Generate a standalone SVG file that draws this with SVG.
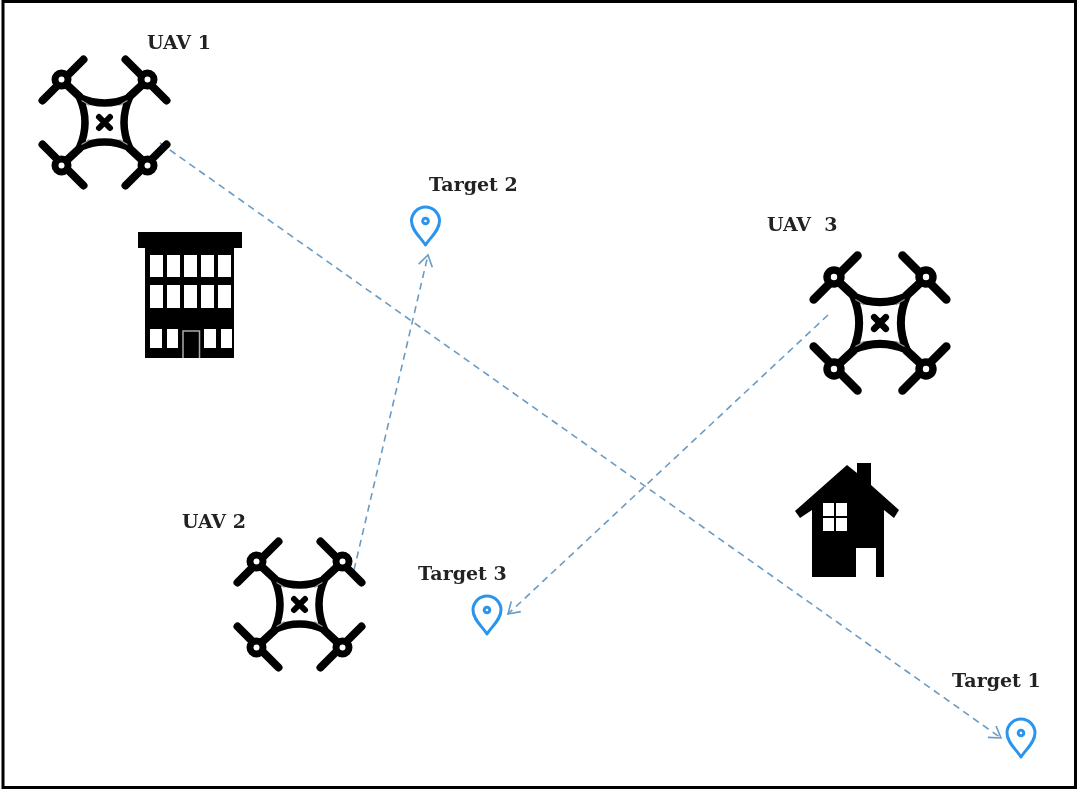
<svg xmlns="http://www.w3.org/2000/svg" width="1080" height="793" viewBox="0 0 1080 793">
<style>
.lbl{font-family:"DejaVu Serif","Liberation Serif",serif;font-weight:bold;font-size:19px;fill:#222;filter:url(#soft)}
.conn{fill:none;stroke:#6a9bc4;stroke-width:1.6;stroke-dasharray:7 5;marker-end:url(#arr)}
.pin{fill:none;stroke:#2b95ee;stroke-width:3;stroke-linejoin:round}
.blade{fill:none;stroke:#000;stroke-width:8;stroke-linecap:round}
.k{fill:#000}.w{fill:#fff}
.soft{filter:url(#soft)}
</style>
<defs>
<filter id="soft" x="-5%" y="-5%" width="110%" height="110%"><feGaussianBlur stdDeviation="0.5"/></filter>
<marker id="arr" markerUnits="userSpaceOnUse" markerWidth="20" markerHeight="20" refX="14" refY="8" orient="auto">
<path d="M3 1L14 8L3 15" fill="none" stroke="#6a9bc4" stroke-width="1.6"/>
</marker>
<g id="rotor">
<path class="blade" d="M-21 -63L-62 -22"/>
<circle cx="-43" cy="-43" r="6.500" fill="#fff" stroke="#000" stroke-width="7"/>
<path d="M-38 -38L-24 -25" stroke="#000" stroke-width="8"/>
</g>
<g id="drone">
<use href="#rotor"/>
<use href="#rotor" transform="scale(-1 1)"/>
<use href="#rotor" transform="scale(1 -1)"/>
<use href="#rotor" transform="scale(-1 -1)"/>
<path d="M-25 -25Q0 -14 25 -25Q14 0 25 25Q0 14 -25 25Q-14 0 -25 -25Z" fill="#fff" stroke="#000" stroke-width="7.500" stroke-linejoin="round"/>
<path d="M-23 -22Q-19 -20 -15 -17M23 -22Q19 -20 15 -17M-23 22Q-19 20 -15 17M23 22Q19 20 15 17" fill="none" stroke="#999" stroke-width="1.200"/>
<path d="M-5.500 -5.500L5.500 5.500M5.500 -5.500L-5.500 5.500" stroke="#000" stroke-width="6" stroke-linecap="round"/>
</g>
<g id="pinShape">
<path class="pin" d="M0 22C-4 15 -14 8 -14 -2A14 14 0 1 1 14 -2C14 8 4 15 0 22Z"/>
<circle cx="0" cy="-2" r="2.800" class="pin"/>
</g>
</defs>
<rect width="1080" height="793" fill="#fff"/>
<rect id="frame" x="3" y="1.500" width="1072.500" height="786" fill="none" stroke="#000" stroke-width="3"/>
<g id="connectors">
<path class="conn" d="M160 143L1001 738"/>
<path class="conn" d="M354 570L428 255"/>
<path class="conn" d="M828 315L508 614"/>
</g>
<g id="uav1"><use class="soft" href="#drone" transform="translate(104.500 122.500)"/><text class="lbl" x="147" y="49">UAV 1</text></g>
<g id="uav2"><use class="soft" href="#drone" transform="translate(299.500 604.500)"/><text class="lbl" x="182" y="528">UAV 2</text></g>
<g id="uav3"><use class="soft" href="#drone" transform="translate(880 323) scale(1.07)"/><text class="lbl" x="767" y="231" xml:space="preserve">UAV  3</text></g>
<g id="target1"><use href="#pinShape" transform="translate(1021 735)"/><text class="lbl" x="952" y="687">Target 1</text></g>
<g id="target2"><use href="#pinShape" transform="translate(425.500 223)"/><text class="lbl" x="429" y="191">Target 2</text></g>
<g id="target3"><use href="#pinShape" transform="translate(487 612)"/><text class="lbl" x="418" y="580">Target 3</text></g>
<g id="building" class="soft">
<path class="k" d="M138 232H242V248H234V358H145V248H138Z"/>
<g class="w">
<rect x="150" y="255" width="13" height="22"/><rect x="167" y="255" width="13" height="22"/><rect x="184" y="255" width="13" height="22"/><rect x="201" y="255" width="13" height="22"/><rect x="218" y="255" width="13" height="22"/>
<rect x="150" y="285" width="13" height="23"/><rect x="167" y="285" width="13" height="23"/><rect x="184" y="285" width="13" height="23"/><rect x="201" y="285" width="13" height="23"/><rect x="218" y="285" width="13" height="23"/>
<rect x="150" y="329" width="12" height="19"/><rect x="167" y="329" width="11" height="19"/><rect x="204" y="329" width="12" height="19"/><rect x="221" y="329" width="11" height="19"/>
</g>
<path d="M183 358V331H199.500V358" fill="none" stroke="#aaa" stroke-width="1.500"/>
</g>
<g id="house" class="soft">
<path class="k" d="M847 465L857 473V463H871V485L899 510L894 518L884 510V577H876V548H856V577H812V510L800 518L795 511Z"/>
<rect class="w" x="823" y="503" width="11" height="13"/><rect class="w" x="836" y="503" width="11" height="13"/><rect class="w" x="823" y="518" width="11" height="13"/><rect class="w" x="836" y="518" width="11" height="13"/>
</g>
</svg>
